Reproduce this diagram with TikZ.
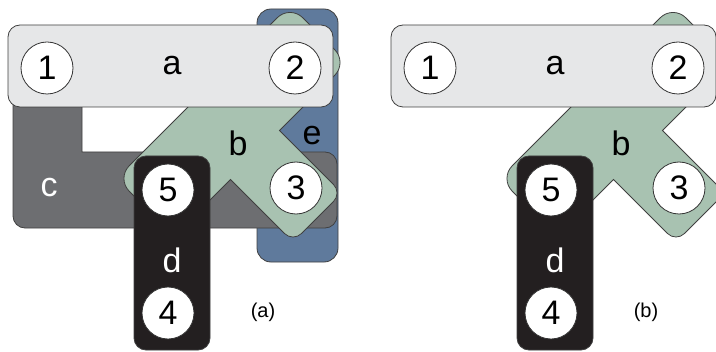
\documentclass[tikz,border=0pt]{standalone}
\usepackage{fontspec}
\setmainfont{Liberation Sans}

\definecolor{edgea}{HTML}{E6E7E8}
\definecolor{edgeb}{HTML}{A8C2B1}
\definecolor{edgec}{HTML}{6D6E71}
\definecolor{edged}{HTML}{231F20}
\definecolor{edgee}{HTML}{5F7A9C}

\tikzset{
  vertex/.style={circle,draw=black!80,fill=white,line width=0.4pt,
    minimum size=26pt,inner sep=0pt,font=\fontsize{17}{17}\selectfont},
  hedge/.style={draw=black!75,line width=0.4pt},
  elabel/.style={inner sep=0pt,font=\fontsize{17}{17}\selectfont},
  caption/.style={inner sep=0pt,font=\fontsize{10}{12}\selectfont}
}

\begin{document}
\begin{tikzpicture}[x=0.5pt,y=-0.5pt]
  \clip (0,0) rectangle (716,352);

  % (a) all five hyperedges
  \begin{scope}[name prefix=l-]
    \filldraw[hedge,fill=edgee,rounded corners=7pt] (257,9) rectangle (338,262);
    \filldraw[hedge,fill=edgec] (13,80) [rounded corners=6pt] -- (13,228) -- (337,228) -- (337,152)
      [sharp corners] -- (82,152) [rounded corners=6pt] -- (82,80) -- cycle;
    % cross shaped edge b, start at the inner notch
    \filldraw[hedge,fill=edgeb] (279.5,130.5) [rounded corners=6pt] -- (342,193) -- (293,242)
      [sharp corners] -- (230.5,179.5) [rounded corners=9pt] -- (174,236) -- (116.5,178.5)
      -- (290,5) -- (347.5,62.5) [sharp corners] -- cycle;
    \filldraw[hedge,fill=edgea,rounded corners=6pt] (8,25) rectangle (333,107);
    \filldraw[hedge,fill=edged,rounded corners=6pt] (134,156) rectangle (210,350);

    \node[vertex] (1) at (47,68) {1};
    \node[vertex] (2) at (295,68) {2};
    \node[vertex] (3) at (296,188) {3};
    \node[vertex] (4) at (168,313) {4};
    \node[vertex] (5) at (168,190) {5};

    \node[elabel] (a) at (172,66) {a};
    \node[elabel] (b) at (238,143) {b};
    \node[elabel,white] (c) at (49,188) {c};
    \node[elabel,white] (d) at (172,260) {d};
    \node[elabel] (e) at (312,136) {e};
    \node[caption] (cap) at (263,312) {(a)};
  \end{scope}

  % (b) only a, b and d
  \begin{scope}[shift={(383,0)},name prefix=r-]
    \filldraw[hedge,fill=edgeb] (279.5,130.5) [rounded corners=6pt] -- (342,193) -- (293,242)
      [sharp corners] -- (230.5,179.5) [rounded corners=9pt] -- (174,236) -- (116.5,178.5)
      -- (290,5) -- (347.5,62.5) [sharp corners] -- cycle;
    \filldraw[hedge,fill=edgea,rounded corners=6pt] (8,25) rectangle (333,107);
    \filldraw[hedge,fill=edged,rounded corners=6pt] (134,156) rectangle (210,350);

    \node[vertex] (1) at (47,68) {1};
    \node[vertex] (2) at (295,68) {2};
    \node[vertex] (3) at (296,188) {3};
    \node[vertex] (4) at (168,313) {4};
    \node[vertex] (5) at (168,190) {5};

    \node[elabel] (a) at (172,66) {a};
    \node[elabel] (b) at (238,143) {b};
    \node[elabel,white] (d) at (172,260) {d};
    \node[caption] (cap) at (263,312) {(b)};
  \end{scope}
\end{tikzpicture}
\end{document}
